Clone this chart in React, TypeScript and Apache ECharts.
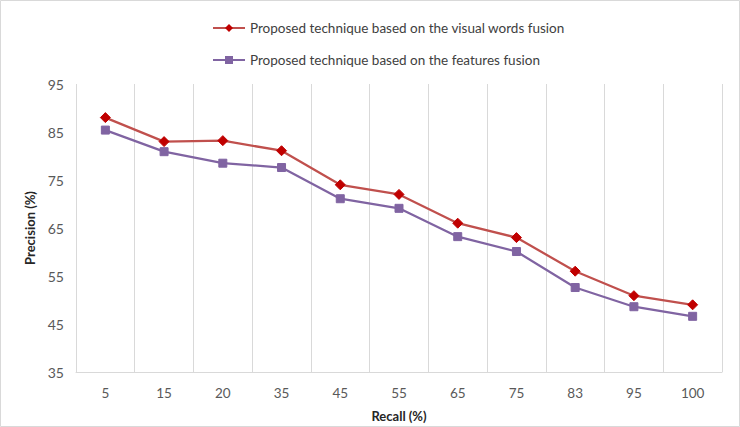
import React, { useEffect, useRef } from "react";
import * as echarts from "echarts";

const recallCategories = ["5", "15", "20", "35", "45", "55", "65", "75", "83", "95", "100"];
const visualWordsFusion = [88.0, 83.0, 83.2, 81.1, 74.0, 72.0, 66.0, 63.0, 56.0, 50.9, 49.0];
const featuresFusion = [85.4, 80.9, 78.5, 77.6, 71.1, 69.1, 63.2, 60.1, 52.6, 48.6, 46.6];
const seriesNames = [
  "Proposed technique based on the visual words fusion",
  "Proposed technique based on the features fusion",
];

const FONT = "Lato, 'Open Sans', sans-serif";

export default function App() {
  const ref = useRef<HTMLDivElement>(null);
  useEffect(() => {
    if (!ref.current) return;
    const chart = echarts.init(ref.current, null, { renderer: "svg" });
    chart.setOption({
      animation: false,
      backgroundColor: "#ffffff",
      textStyle: { fontFamily: FONT },
      graphic: [
        {
          type: "rect",
          shape: { x: 0.5, y: 0.5, width: 739, height: 426 },
          style: { fill: "none", stroke: "#d9d9d9", lineWidth: 1 },
          silent: true,
        },
      ],
      legend: {
        orient: "vertical",
        left: 207,
        top: 16,
        itemWidth: 32,
        itemHeight: 10,
        itemGap: 18,
        textStyle: { fontSize: 13.5, color: "#404040", fontFamily: FONT, lineHeight: 14 },
        data: seriesNames,
      },
      grid: { left: 76, right: 18, top: 84, bottom: 49, containLabel: false },
      xAxis: {
        type: "category",
        data: recallCategories,
        boundaryGap: true,
        name: "Recall (%)",
        nameLocation: "middle",
        nameGap: 37,
        nameTextStyle: { fontSize: 13, fontWeight: "bold", color: "#262626", fontFamily: FONT },
        axisLine: { show: true, lineStyle: { color: "#d9d9d9", width: 1 } },
        axisTick: { show: false },
        axisLabel: { fontSize: 13.5, color: "#595959", margin: 14, fontFamily: FONT },
        splitLine: { show: true, lineStyle: { color: "#d9d9d9", width: 1 } },
      },
      yAxis: {
        type: "value",
        min: 35,
        max: 95,
        interval: 5,
        name: "Precision (%)",
        nameLocation: "middle",
        nameGap: 29,
        nameRotate: 90,
        nameTextStyle: { fontSize: 13, fontWeight: "bold", color: "#262626", fontFamily: FONT },
        axisLine: { show: false },
        axisTick: { show: false },
        splitLine: { show: false },
        axisLabel: {
          fontSize: 14,
          color: "#595959",
          margin: 12,
          fontFamily: FONT,
          formatter: (v: number) => ((v - 35) % 10 === 0 ? String(v) : ""),
        },
      },
      series: [
        {
          name: seriesNames[0],
          type: "line",
          data: visualWordsFusion,
          symbol: "diamond",
          symbolSize: 10,
          lineStyle: { color: "#C0504D", width: 2.25 },
          itemStyle: { color: "#C00000", borderColor: "#C00000" },
        },
        {
          name: seriesNames[1],
          type: "line",
          data: featuresFusion,
          symbol: "rect",
          symbolSize: 8,
          lineStyle: { color: "#8064A2", width: 2.25 },
          itemStyle: { color: "#8064A2", borderColor: "#8064A2" },
        },
      ],
    });
    return () => chart.dispose();
  }, []);
  return (
    <div
      ref={ref}
      style={{ position: "fixed", left: 0, top: 0, width: 740, height: 427 }}
    />
  );
}
